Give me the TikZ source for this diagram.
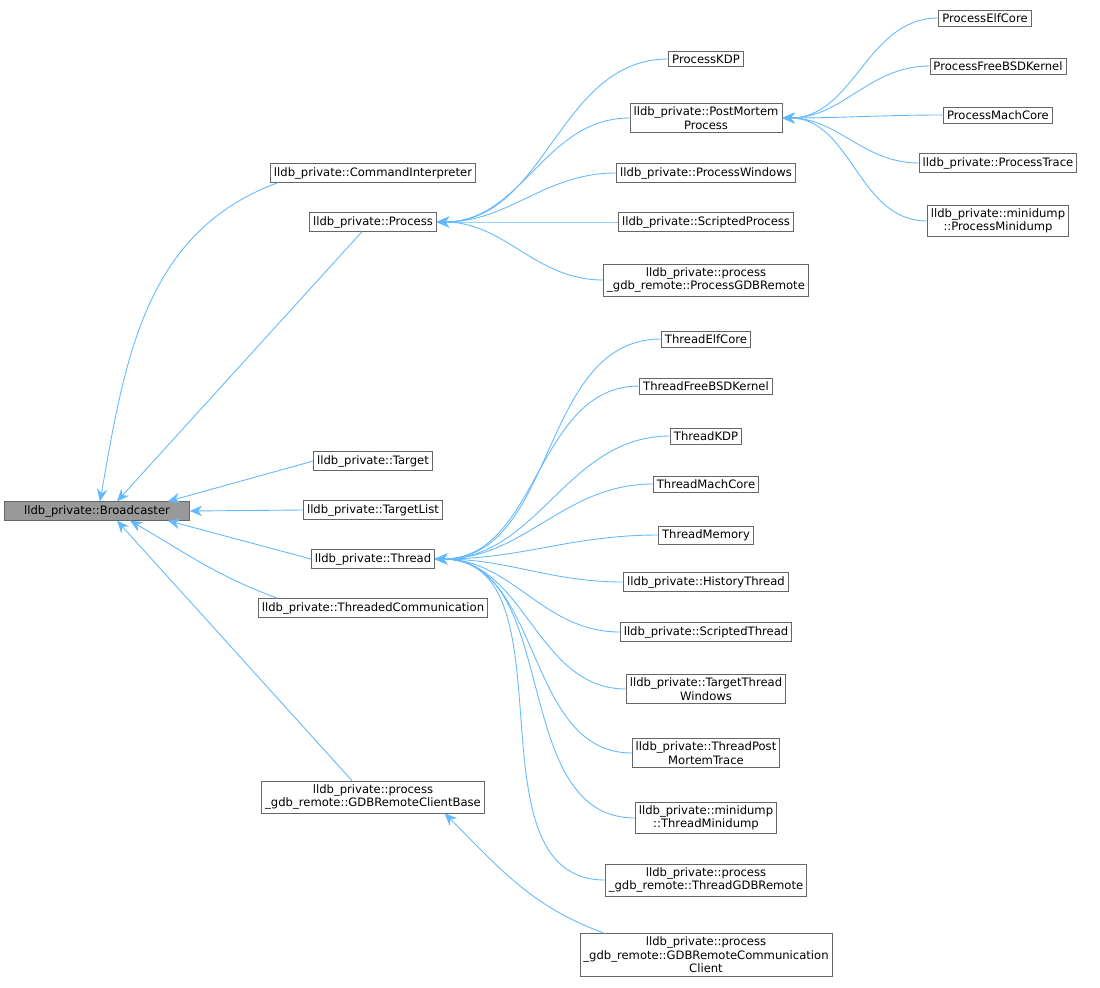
\documentclass[tikz,border=0pt]{standalone}
\usepackage{fontspec}
\setmainfont{DejaVu Sans}
\usetikzlibrary{arrows.meta}
\definecolor{edgeblue}{HTML}{63B8FF}
\definecolor{boxgray}{HTML}{666666}
\tikzset{cls/.style={rectangle,draw=boxgray,fill=white,inner sep=2pt,align=center,
    font=\fontsize{6.6}{7.6}\selectfont},
  base/.style={cls,fill=black!40},
  edge/.style={draw=edgeblue,line width=0.5pt,{Stealth[length=7pt,width=6pt,fill=edgeblue]}-}}
\begin{document}
\begin{tikzpicture}[x=0.02cm,y=-0.02cm]
\useasboundingbox (0,0) rectangle (1100,988);
% base class and direct children
\node[base,minimum width=185*0.02cm] (bc) at (97,511) {lldb\_private::Broadcaster};
\node[cls] (ci) at (373,173) {lldb\_private::CommandInterpreter};
\node[cls] (proc) at (373,222) {lldb\_private::Process};
\node[cls] (tgt) at (373,461) {lldb\_private::Target};
\node[cls] (tl) at (373,510) {lldb\_private::TargetList};
\node[cls] (thr) at (373,559) {lldb\_private::Thread};
\node[cls] (tc) at (373,608) {lldb\_private::ThreadedCommunication};
\node[cls] (gcb) at (373,797) {lldb\_private::process\\\_gdb\_remote::GDBRemoteClientBase};
% process children
\node[cls] (pkdp) at (706,59) {ProcessKDP};
\node[cls] (pm) at (706,118) {lldb\_private::PostMortem\\Process};
\node[cls] (pw) at (706,173) {lldb\_private::ProcessWindows};
\node[cls] (sp) at (706,222) {lldb\_private::ScriptedProcess};
\node[cls] (pgdb) at (706,280) {lldb\_private::process\\\_gdb\_remote::ProcessGDBRemote};
\node[cls] (pelf) at (985,18) {ProcessElfCore};
\node[cls] (pfbsd) at (998,66) {ProcessFreeBSDKernel};
\node[cls] (pmach) at (998,115) {ProcessMachCore};
\node[cls] (ptr) at (998,163) {lldb\_private::ProcessTrace};
\node[cls] (pmini) at (998,221) {lldb\_private::minidump\\::ProcessMinidump};
% thread children
\node[cls] (telf) at (706,339) {ThreadElfCore};
\node[cls] (tfbsd) at (706,386) {ThreadFreeBSDKernel};
\node[cls] (tkdp) at (706,436) {ThreadKDP};
\node[cls] (tmach) at (706,484) {ThreadMachCore};
\node[cls] (tmem) at (706,535) {ThreadMemory};
\node[cls] (th) at (706,582) {lldb\_private::HistoryThread};
\node[cls] (ts) at (706,632) {lldb\_private::ScriptedThread};
\node[cls] (ttw) at (706,689) {lldb\_private::TargetThread\\Windows};
\node[cls] (tpm) at (706,753) {lldb\_private::ThreadPost\\MortemTrace};
\node[cls] (tmini) at (706,818) {lldb\_private::minidump\\::ThreadMinidump};
\node[cls] (tgdb) at (706,880) {lldb\_private::process\\\_gdb\_remote::ThreadGDBRemote};
\node[cls] (gcc) at (706,955) {lldb\_private::process\\\_gdb\_remote::GDBRemoteCommunication\\Client};
% edges into the broadcaster
\draw[edge] ([xshift=3*0.02cm]bc.north) to[out=80,in=200] ([xshift=8*0.02cm]ci.south west);
\draw[edge] ([xshift=20*0.02cm]bc.north) -- ([xshift=-11*0.02cm]proc.south);
\draw[edge] ([xshift=-22*0.02cm]bc.north east) -- (tgt.west);
\draw[edge] (bc.east) -- (tl.west);
\draw[edge] ([xshift=-22*0.02cm]bc.south east) -- (thr.west);
\draw[edge] ([xshift=33*0.02cm]bc.south) to[out=-30,in=160] ([xshift=20*0.02cm]tc.north west);
\draw[edge] ([xshift=20*0.02cm]bc.south) -- ([xshift=-21*0.02cm]gcb.north);
\draw[edge] ([xshift=-40*0.02cm]gcb.south east) to[out=-45,in=160] ([xshift=25*0.02cm]gcc.north west);
% process fan
\foreach \c in {pkdp,pm,pw,sp,pgdb}
  \draw[edge] (proc.east) to[out=0,in=180] (\c.west);
\foreach \c in {pelf,pfbsd,pmach,ptr,pmini}
  \draw[edge] (pm.east) to[out=0,in=180] (\c.west);
% thread fan
\foreach \c in {telf,tfbsd,tkdp,tmach,tmem,th,ts,ttw,tpm,tmini,tgdb}
  \draw[edge] (thr.east) to[out=0,in=180] (\c.west);
\end{tikzpicture}
\end{document}
